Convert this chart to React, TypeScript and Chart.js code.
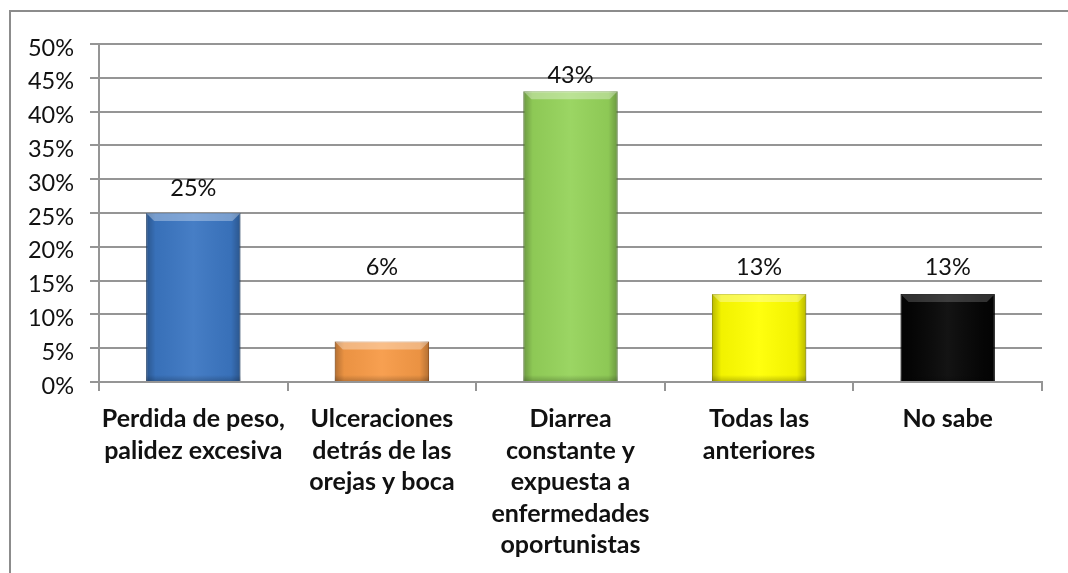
import React, { useEffect, useRef } from "react";
import { Chart, registerables } from "chart.js";

Chart.register(...registerables);

const categories: string[][] = [
  ["Perdida de peso,", "palidez excesiva"],
  ["Ulceraciones", "detrás de las", "orejas y boca"],
  ["Diarrea", "constante y", "expuesta a", "enfermedades", "oportunistas"],
  ["Todas las", "anteriores"],
  ["No sabe"],
];
const values: number[] = [25, 6, 43, 13, 13];
const barColors: string[] = ["#3b76c2", "#f79a46", "#95d35a", "#ffff00", "#050505"];
const barBorders: string[] = ["#2c5a96", "#c8732c", "#6fa33c", "#c8c800", "#000000"];
const yTicks: number[] = [0, 5, 10, 15, 20, 25, 30, 35, 40, 45, 50];

const FONT = "Lato, 'Open Sans', sans-serif";
const GRID = "#959595";

const bevelPlugin = {
  id: "bevel",
  afterDatasetsDraw(chart: any) {
    const ctx = chart.ctx;
    const meta = chart.getDatasetMeta(0);
    meta.data.forEach((bar: any, i: number) => {
      const left = bar.x - bar.width / 2;
      const right = bar.x + bar.width / 2;
      const top = bar.y;
      const bottom = bar.base;
      const w = right - left;
      const h = bottom - top;
      ctx.save();
      const g = ctx.createLinearGradient(left, 0, right, 0);
      g.addColorStop(0, "rgba(0,0,0,0.28)");
      g.addColorStop(0.1, "rgba(0,0,0,0.05)");
      g.addColorStop(0.5, "rgba(255,255,255,0.06)");
      g.addColorStop(0.9, "rgba(0,0,0,0.05)");
      g.addColorStop(1, "rgba(0,0,0,0.28)");
      ctx.fillStyle = g;
      ctx.fillRect(left, top, w, h);
      const b = Math.min(8, h / 2);
      ctx.beginPath();
      ctx.moveTo(left, top);
      ctx.lineTo(right, top);
      ctx.lineTo(right - b, top + b);
      ctx.lineTo(left + b, top + b);
      ctx.closePath();
      ctx.fillStyle = i === 4 ? "rgba(255,255,255,0.18)" : "rgba(255,255,255,0.32)";
      ctx.fill();
      const gb = ctx.createLinearGradient(0, bottom - 6, 0, bottom);
      gb.addColorStop(0, "rgba(0,0,0,0)");
      gb.addColorStop(1, "rgba(0,0,0,0.2)");
      ctx.fillStyle = gb;
      ctx.fillRect(left, bottom - 6, w, 6);
      ctx.restore();
    });
  },
};

const labelPlugin = {
  id: "valueLabels",
  afterDatasetsDraw(chart: any) {
    const ctx = chart.ctx;
    const meta = chart.getDatasetMeta(0);
    const yScale = chart.scales.y;
    ctx.save();
    ctx.font = `23.5px ${FONT}`;
    ctx.fillStyle = "#111";
    ctx.textAlign = "center";
    ctx.textBaseline = "alphabetic";
    meta.data.forEach((bar: any, i: number) => {
      let yb = Math.min(bar.y - 17, yScale.getPixelForValue(15.8));
      yb = Math.max(yb, chart.chartArea.top + 39);
      ctx.fillText(values[i] + "%", bar.x, yb);
    });
    ctx.restore();
  },
};

export default function App() {
  const ref = useRef<HTMLCanvasElement>(null);
  useEffect(() => {
    if (!ref.current) return;
    const chart = new Chart(ref.current, {
      type: "bar",
      data: {
        labels: categories,
        datasets: [
          {
            data: values,
            backgroundColor: barColors,
            borderColor: barBorders,
            borderWidth: 1,
            barPercentage: 0.5,
            categoryPercentage: 1,
          },
        ],
      },
      options: {
        animation: false,
        responsive: true,
        maintainAspectRatio: false,
        layout: { padding: { top: 32, right: 26, left: 0, bottom: 0 } },
        plugins: { legend: { display: false }, tooltip: { enabled: false } },
        scales: {
          x: {
            afterFit: (s: any) => {
              s.height = 191;
            },
            grid: {
              display: true,
              drawOnChartArea: false,
              tickLength: 9,
              color: GRID,
              lineWidth: 2,
            },
            border: { display: true, color: GRID, width: 2 },
            ticks: {
              color: "#111",
              font: { family: FONT, size: 25, weight: "bold", lineHeight: 1.265 },
              padding: 12,
              maxRotation: 0,
              autoSkip: false,
            },
          },
          y: {
            min: 0,
            max: 50,
            afterFit: (s: any) => {
              s.width = 88;
            },
            afterBuildTicks: (s: any) => {
              s.ticks = yTicks.map((v) => ({ value: v }));
            },
            grid: { color: GRID, lineWidth: 2, tickLength: 9 },
            border: { display: true, color: GRID, width: 2 },
            ticks: {
              color: "#111",
              font: { family: FONT, size: 23.5 },
              padding: 16,
              labelOffset: 4,
              callback: (v: any) => v + "%",
            },
          },
        },
      },
      plugins: [bevelPlugin, labelPlugin],
    });
    return () => chart.destroy();
  }, []);

  return (
    <div
      style={{
        position: "absolute",
        left: 9,
        top: 10,
        width: 1059,
        height: 563,
        borderTop: "2px solid #8c8c8c",
        borderLeft: "2px solid #8c8c8c",
        boxSizing: "border-box",
        background: "#fff",
      }}
    >
      <div style={{ position: "relative", width: 1057, height: 561 }}>
        <canvas ref={ref} />
      </div>
    </div>
  );
}
